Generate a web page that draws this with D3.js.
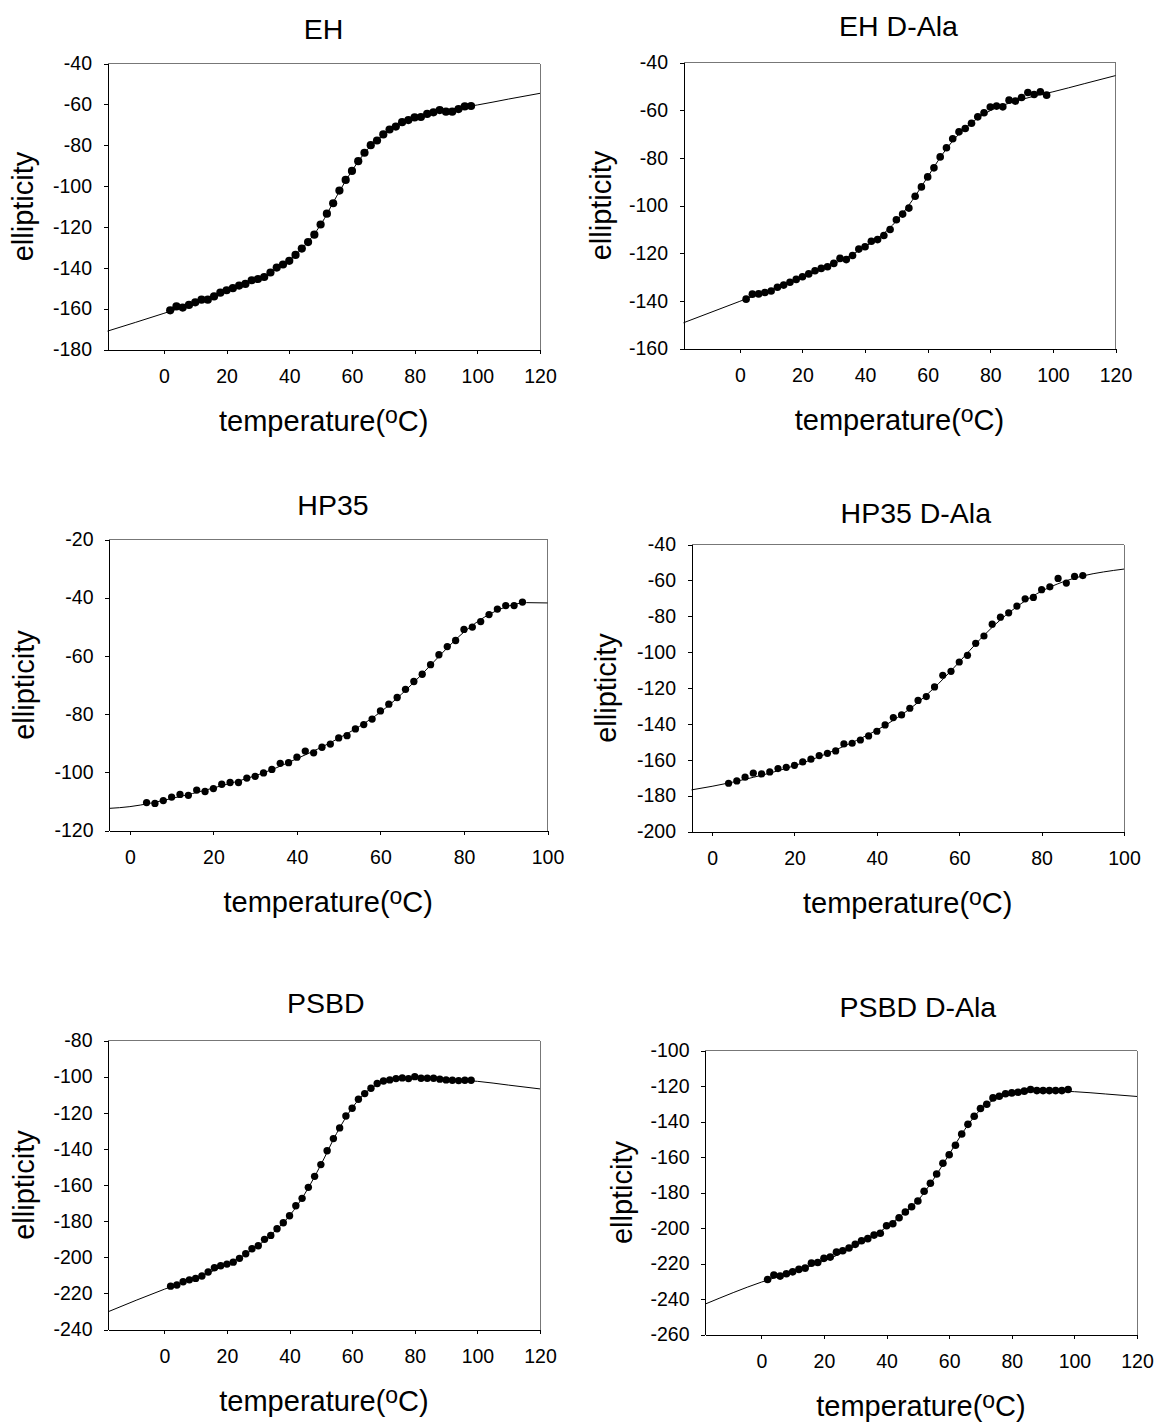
<!DOCTYPE html>
<html>
<head>
<meta charset="utf-8">
<script src="https://cdn.jsdelivr.net/npm/d3@7"></script>
<style>
  html, body { margin: 0; padding: 0; background: #fff; }
  svg text { font-family: "Liberation Sans", Arial, Helvetica, sans-serif; fill: #000; }
</style>
</head>
<body>
<svg id="chart" width="1157" height="1424"></svg>
<script>
// ---------------- DATA ----------------
const titles = ["EH", "EH D-Ala", "HP35", "HP35 D-Ala", "PSBD", "PSBD D-Ala"];
const yLabels = ["ellipticity", "ellipticity", "ellipticity", "ellipticity", "ellipticity", "ellpticity"];
const xLabelMain = "temperature(";
const xLabelSup = "o";
const xLabelTail = "C)";

const xTicks120 = [0, 20, 40, 60, 80, 100, 120];
const xTicks100 = [0, 20, 40, 60, 80, 100];
const yTicksEH = [-180, -160, -140, -120, -100, -80, -60, -40];
const yTicksEHD = [-160, -140, -120, -100, -80, -60, -40];
const yTicksHP = [-120, -100, -80, -60, -40, -20];
const yTicksHPD = [-200, -180, -160, -140, -120, -100, -80, -60, -40];
const yTicksPS = [-240, -220, -200, -180, -160, -140, -120, -100, -80];
const yTicksPSD = [-260, -240, -220, -200, -180, -160, -140, -120, -100];

// EH
const ehTemp = [2,4,6,8,10,12,14,16,18,20,22,24,26,28,30,32,34,36,38,40,42,44,46,48,50,52,54,56,58,60,62,64,66,68,70,72,74,76,78,80,82,84,86,88,90,92,94,96,98];
const ehTheta = [-160.8,-158.9,-159.5,-158.2,-156.9,-155.6,-155.6,-154.0,-152.2,-151.0,-150.0,-148.7,-147.9,-146.1,-145.5,-144.5,-142.3,-139.9,-138.4,-136.6,-133.7,-130.6,-127.4,-123.8,-118.8,-113.5,-108.4,-102.2,-97.0,-92.6,-87.8,-83.7,-80.0,-77.7,-74.7,-72.3,-70.9,-68.7,-67.7,-66.4,-66.2,-64.7,-63.9,-62.8,-63.6,-63.6,-62.3,-61.0,-60.8];
const ehFitT = [-18,0,5,10,15,20,25,30,35,40,45,50,55,60,65,70,75,80,85,90,95,100,110,120];
const ehFitV = [-171.0,-162.3,-159.8,-157.4,-154.6,-151.6,-148.6,-145.3,-141.4,-136.3,-129.0,-119.0,-105.3,-92.5,-82.0,-75.0,-70.0,-66.8,-64.5,-62.8,-61.5,-60.3,-57.4,-54.6];

// EH D-Ala
const ehdTemp = [2,4,6,8,10,12,14,16,18,20,22,24,26,28,30,32,34,36,38,40,42,44,46,48,50,52,54,56,58,60,62,64,66,68,70,72,74,76,78,80,82,84,86,88,90,92,94,96,98];
const ehdTheta = [-139.3,-137.2,-137.1,-136.5,-135.9,-134.3,-133.4,-132.2,-131.0,-129.9,-128.7,-127.4,-126.4,-125.7,-124.3,-122.2,-122.7,-121.0,-118.3,-117.3,-115.0,-114.3,-112.6,-110.1,-106.0,-103.6,-101.1,-96.1,-92.2,-88.0,-84.2,-79.6,-75.8,-72.0,-69.1,-67.7,-65.5,-62.8,-61.1,-58.7,-58.3,-58.6,-55.8,-56.2,-54.7,-52.6,-53.4,-52.3,-53.7];
const ehdFitT = [-18,0,5,10,15,20,25,30,35,40,45,50,55,60,65,70,75,80,85,90,95,100,110,120];
const ehdFitV = [-149.2,-140.2,-137.7,-135.5,-133.0,-130.3,-127.5,-124.5,-121.3,-117.3,-112.8,-106.5,-98.0,-88.0,-78.0,-70.0,-64.3,-60.2,-57.5,-55.5,-53.8,-52.3,-48.9,-45.5];

// HP35
const hpTemp = [4,6,8,10,12,14,16,18,20,22,24,26,28,30,32,34,36,38,40,42,44,46,48,50,52,54,56,58,60,62,64,66,68,70,72,74,76,78,80,82,84,86,88,90,92,94];
const hpTheta = [-110.4,-110.7,-109.7,-108.5,-107.6,-107.9,-106.1,-106.6,-105.6,-104.1,-103.5,-103.5,-102.0,-101.4,-100.2,-99.0,-96.9,-96.7,-94.8,-92.7,-93.3,-91.4,-90.3,-88.2,-87.4,-85.1,-83.6,-81.7,-78.9,-76.6,-74.3,-71.5,-68.8,-66.3,-63.0,-59.6,-56.8,-54.7,-50.9,-50.1,-48.2,-45.8,-43.9,-42.7,-42.7,-41.5];
const hpFitT = [-5,0,5,10,15,20,25,30,35,40,45,50,55,60,65,70,75,80,85,90,95,100];
const hpFitV = [-112.4,-111.8,-110.6,-109.0,-107.3,-105.4,-103.4,-101.2,-98.5,-95.3,-92.0,-88.3,-84.2,-79.3,-73.2,-66.2,-58.7,-51.8,-46.6,-43.2,-41.7,-41.8];

// HP35 D-Ala
const hpdTemp = [4,6,8,10,12,14,16,18,20,22,24,26,28,30,32,34,36,38,40,42,44,46,48,50,52,54,56,58,60,62,64,66,68,70,72,74,76,78,80,82,84,86,88,90];
const hpdTheta = [-173.1,-171.8,-169.7,-167.5,-167.9,-166.8,-164.9,-164.2,-163.1,-161.2,-159.7,-157.7,-156.4,-155.1,-151.2,-150.8,-149.0,-146.7,-144.1,-140.6,-136.5,-135.0,-131.3,-126.9,-124.8,-119.4,-112.9,-110.7,-105.5,-101.8,-95.1,-91.0,-84.4,-80.5,-78.1,-74.3,-70.3,-69.5,-65.2,-63.6,-58.9,-61.5,-57.8,-57.3];
const hpdFitT = [-5,0,5,10,15,20,25,30,35,40,45,50,55,60,65,70,75,80,85,90,95,100];
const hpdFitV = [-176.8,-174.8,-172.5,-169.8,-166.8,-163.3,-159.2,-154.5,-149.3,-143.5,-136.5,-128.0,-117.5,-105.5,-93.0,-82.0,-73.0,-66.0,-61.0,-57.5,-55.3,-53.7];

// PSBD
const psTemp = [2,4,6,8,10,12,14,16,18,20,22,24,26,28,30,32,34,36,38,40,42,44,46,48,50,52,54,56,58,60,62,64,66,68,70,72,74,76,78,80,82,84,86,88,90,92,94,96,98];
const psTheta = [-216.0,-215.4,-213.6,-212.5,-211.7,-210.4,-208.2,-205.8,-204.7,-203.8,-202.7,-200.6,-198.1,-195.3,-193.6,-190.1,-187.9,-184.2,-180.9,-177.0,-171.5,-167.4,-161.3,-155.2,-148.7,-141.0,-134.3,-128.4,-121.8,-117.5,-112.5,-109.4,-106.4,-103.8,-102.4,-101.8,-101.1,-100.7,-101.1,-100.0,-100.9,-100.9,-100.9,-101.4,-101.8,-102.0,-102.2,-102.0,-102.0];
const psFitT = [-18,0,5,10,15,20,25,30,35,40,45,50,55,60,65,70,75,80,85,90,95,100,110,120];
const psFitV = [-230.2,-217.7,-214.5,-211.5,-208.0,-204.0,-199.3,-193.5,-186.0,-177.0,-164.5,-148.8,-131.5,-117.3,-107.8,-103.0,-101.1,-100.6,-100.8,-101.4,-102.0,-102.6,-104.7,-106.8];

// PSBD D-Ala
const psdTemp = [2,4,6,8,10,12,14,16,18,20,22,24,26,28,30,32,34,36,38,40,42,44,46,48,50,52,54,56,58,60,62,64,66,68,70,72,74,76,78,80,82,84,86,88,90,92,94,96,98];
const psdTheta = [-229.0,-226.5,-227.1,-225.8,-224.7,-223.3,-222.6,-219.8,-219.4,-217.1,-216.4,-213.6,-212.8,-211.3,-209.2,-207.2,-206.0,-204.0,-203.0,-198.7,-197.6,-194.2,-191.0,-188.0,-184.8,-179.3,-174.8,-169.6,-163.5,-158.7,-153.4,-147.0,-141.6,-137.0,-132.7,-130.3,-126.7,-125.8,-124.4,-123.9,-123.5,-122.9,-122.0,-122.6,-122.6,-122.6,-122.6,-122.6,-122.0];
const psdFitT = [-18,0,5,10,15,20,25,30,35,40,45,50,55,60,65,70,75,80,85,90,95,100,110,120];
const psdFitV = [-242.9,-230.5,-227.6,-224.8,-221.8,-218.5,-214.7,-210.2,-205.3,-199.5,-192.5,-184.5,-172.5,-158.5,-144.5,-133.3,-127.2,-124.5,-123.3,-122.9,-122.9,-123.2,-124.5,-125.9];

// ---------------- LAYOUT ----------------
const layout = [
  { l: 107.5, r: 540.0, t: 63.5, b: 349.5, xd: [-18,120], yd: [-180,-40], xt: xTicks120, yt: yTicksEH, tx: 323.5, ty: 39.3, lx: 33, rad: 4.1,
    T: ehTemp, V: ehTheta, FT: ehFitT, FV: ehFitV },
  { l: 683.5, r: 1115.5, t: 62.5, b: 348.5, xd: [-18,120], yd: [-160,-40], xt: xTicks120, yt: yTicksEHD, tx: 898.5, ty: 36, lx: 611, rad: 3.8,
    T: ehdTemp, V: ehdTheta, FT: ehdFitT, FV: ehdFitV },
  { l: 109.0, r: 547.5, t: 539.5, b: 830.5, xd: [-5,100], yd: [-120,-20], xt: xTicks100, yt: yTicksHP, tx: 333, ty: 515, lx: 34, rad: 3.65,
    T: hpTemp, V: hpTheta, FT: hpFitT, FV: hpFitV },
  { l: 691.5, r: 1124.0, t: 544.5, b: 831.5, xd: [-5,100], yd: [-200,-40], xt: xTicks100, yt: yTicksHPD, tx: 915.8, ty: 522.7, lx: 615.7, rad: 3.6,
    T: hpdTemp, V: hpdTheta, FT: hpdFitT, FV: hpdFitV },
  { l: 108.0, r: 540.0, t: 1040.5, b: 1329.5, xd: [-18,120], yd: [-240,-80], xt: xTicks120, yt: yTicksPS, tx: 325.7, ty: 1013.3, lx: 34, rad: 3.7,
    T: psTemp, V: psTheta, FT: psFitT, FV: psFitV },
  { l: 705.0, r: 1137.0, t: 1050.5, b: 1334.5, xd: [-18,120], yd: [-260,-100], xt: xTicks120, yt: yTicksPSD, tx: 917.8, ty: 1017.3, lx: 631.5, rad: 3.8,
    T: psdTemp, V: psdTheta, FT: psdFitT, FV: psdFitV }
];

const svg = d3.select("#chart");
const tickFont = 19.5, titleFont = 28.5, labelFont = 29;

layout.forEach((p, i) => {
  const x = d3.scaleLinear().domain(p.xd).range([p.l, p.r]);
  const y = d3.scaleLinear().domain(p.yd).range([p.b, p.t]);
  const g = svg.append("g");

  // top and right frame (gray)
  g.append("line").attr("x1", p.l).attr("x2", p.r).attr("y1", p.t).attr("y2", p.t)
    .attr("stroke", "#777").attr("stroke-width", 1).attr("shape-rendering", "crispEdges");
  g.append("line").attr("x1", p.r).attr("x2", p.r).attr("y1", p.t).attr("y2", p.b)
    .attr("stroke", "#777").attr("stroke-width", 1).attr("shape-rendering", "crispEdges");

  // fit curve
  const fit = p.FT.map((t, k) => [t, p.FV[k]]);
  g.append("path").datum(fit)
    .attr("d", d3.line().x(d => x(d[0])).y(d => y(d[1])).curve(d3.curveMonotoneX))
    .attr("fill", "none").attr("stroke", "#000").attr("stroke-width", 1);

  // axes
  const yAxis = g.append("g").attr("transform", `translate(${p.l},0)`)
    .call(d3.axisLeft(y).tickValues(p.yt).tickSize(4).tickSizeOuter(0).tickPadding(11.5).tickFormat(d3.format("d")));
  const xAxis = g.append("g").attr("transform", `translate(0,${p.b})`)
    .call(d3.axisBottom(x).tickValues(p.xt).tickSize(4).tickSizeOuter(0).tickPadding(16).tickFormat(d3.format("d")));
  [yAxis, xAxis].forEach(a => {
    a.selectAll("path").attr("stroke", "#000").attr("shape-rendering", "crispEdges");
    a.selectAll("line").attr("stroke", "#000").attr("shape-rendering", "crispEdges");
    a.selectAll("text").attr("font-size", tickFont)
      .attr("font-family", "'Liberation Sans', Arial, sans-serif").attr("fill", "#000");
  });
  yAxis.selectAll("text").text(d => String(d).replace("\u2212", "-"));

  // data points
  g.selectAll("circle.pt").data(p.T.map((t, k) => [t, p.V[k]])).enter()
    .append("circle").attr("class", "pt")
    .attr("cx", d => x(d[0])).attr("cy", d => y(d[1])).attr("r", p.rad).attr("fill", "#000");

  // title
  g.append("text").attr("x", p.tx).attr("y", p.ty).attr("text-anchor", "middle")
    .attr("font-size", titleFont).text(titles[i]);

  // y label
  const cy = (p.t + p.b) / 2;
  g.append("text").attr("transform", `translate(${p.lx},${cy}) rotate(-90)`)
    .attr("text-anchor", "middle").attr("font-size", labelFont).text(yLabels[i]);

  // x label
  const xl = g.append("text").attr("x", (p.l + p.r) / 2).attr("y", p.b + 81.7)
    .attr("text-anchor", "middle").attr("font-size", labelFont);
  xl.append("tspan").text(xLabelMain);
  xl.append("tspan").attr("font-size", 23).attr("dy", -8).text(xLabelSup);
  xl.append("tspan").attr("dy", 8).text(xLabelTail);
});
</script>
</body>
</html>
